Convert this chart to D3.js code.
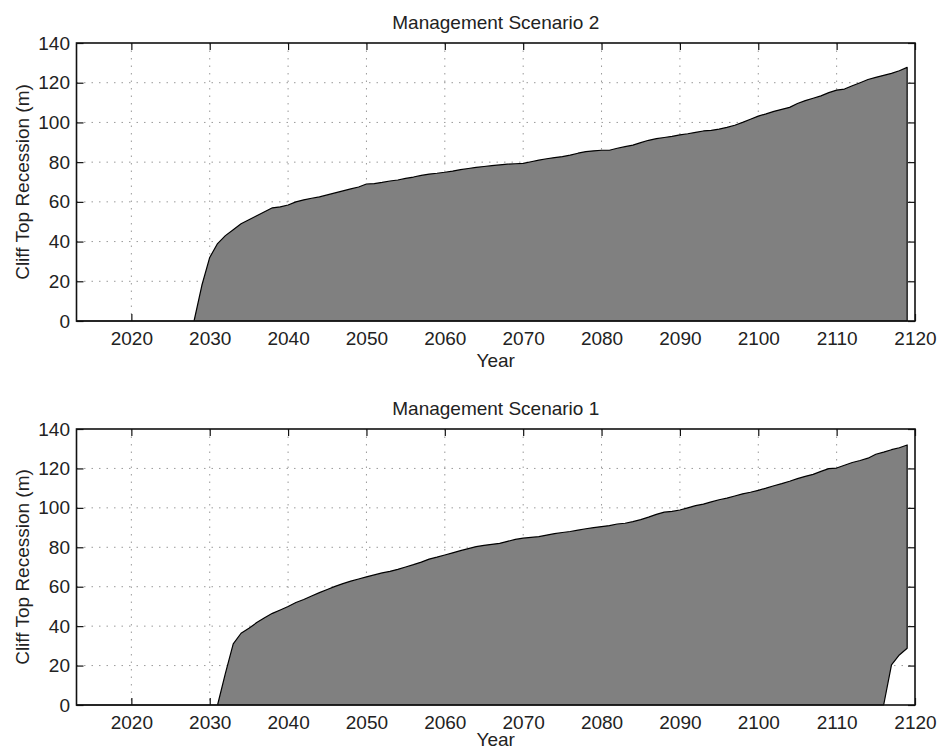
<!DOCTYPE html>
<html>
<head>
<meta charset="utf-8">
<script src="https://cdn.jsdelivr.net/npm/d3@7"></script>
<style>
  body { margin: 0; background: #fff; }
  svg { display: block; font-family: "Liberation Sans", Arial, Helvetica, sans-serif; }
</style>
</head>
<body>
<svg id="chart" width="939" height="749"></svg>
<script>
// Yearly cliff-top recession (m), one value per year from 2013 to 2119.
const years = d3.range(2013, 2120);

const scenario2Recession = [
  0, 0, 0, 0, 0, 0, 0, 0, 0, 0, 0, 0, 0, 0, 0, 0,          // 2013-2028
  18, 32, 39, 43, 46, 49, 51, 53, 55, 57,                   // 2029-2038
  57.5, 58.4, 60, 61, 61.8, 62.5, 63.5, 64.5, 65.5, 66.5,   // 2039-2048
  67.5, 69, 69.2, 69.8, 70.5, 71, 71.8, 72.5, 73.3, 74,     // 2049-2058
  74.4, 74.9, 75.5, 76.2, 76.8, 77.4, 77.8, 78.2, 78.6, 79, // 2059-2068
  79.2, 79.4, 80.2, 81, 81.7, 82.3, 82.8, 83.5, 84.5, 85.3, // 2069-2078
  85.7, 86, 86, 87, 87.8, 88.6, 89.8, 91, 91.8, 92.4,       // 2079-2088
  93, 93.7, 94.3, 95, 95.7, 96, 96.6, 97.5, 98.6, 100,      // 2089-2098
  101.6, 103.2, 104.3, 105.6, 106.6, 107.6, 109.5, 111, 112.2, 113.4, // 2099-2108
  115, 116.3, 116.8, 118.5, 120, 121.6, 122.7, 123.7, 124.7, 126,     // 2109-2118
  127.7                                                     // 2119
];

const scenario1Recession = [
  0, 0, 0, 0, 0, 0, 0, 0, 0, 0, 0, 0, 0, 0, 0, 0, 0, 0, 0, // 2013-2031
  16, 31, 36.4, 38.9, 41.8, 44.3, 46.5, 48.2, 50, 52,       // 2032-2041
  53.5, 55.3, 57, 58.6, 60.2, 61.6, 62.8, 63.9, 65, 66,     // 2042-2051
  67, 67.8, 68.8, 70, 71.2, 72.5, 74, 75, 76.1, 77.2,       // 2052-2061
  78.3, 79.3, 80.3, 81, 81.5, 82, 83, 84, 84.6, 85,         // 2062-2071
  85.4, 86.2, 86.9, 87.5, 88, 88.7, 89.4, 90, 90.5, 91,     // 2072-2081
  91.8, 92.2, 93, 94, 95.3, 96.7, 97.8, 98.2, 98.9, 100,    // 2082-2091
  101.1, 101.9, 103, 104.1, 104.9, 106, 107.1, 107.9, 108.9, 110, // 2092-2101
  111.2, 112.3, 113.5, 114.8, 116, 117, 118.5, 119.9, 120.2, 121.6, // 2102-2111
  123, 124, 125.2, 127.2, 128.3, 129.5, 130.5, 131.9        // 2112-2119
];

// Lower edge of the scenario 1 band: zero except over the last few years.
const scenario1BaseYears = [2116, 2117, 2118, 2119];
const scenario1BaseValues = [0, 20.3, 25.4, 28.8];

const xTicks = [2020, 2030, 2040, 2050, 2060, 2070, 2080, 2090, 2100, 2110, 2120];
const yTicks = [0, 20, 40, 60, 80, 100, 120, 140];

const panels = [
  { title: "Management Scenario 2", upper: scenario2Recession, baseYears: [], baseValues: [], top: 43, bottom: 321 },
  { title: "Management Scenario 1", upper: scenario1Recession, baseYears: scenario1BaseYears, baseValues: scenario1BaseValues, top: 429, bottom: 705 }
];

const width = 939, height = 749;
const left = 76.5, right = 915;
const fontSize = 19;
const svg = d3.select("#chart");

const x = d3.scaleLinear().domain([2013, 2120]).range([left, right]);

panels.forEach(p => {
  const y = d3.scaleLinear().domain([0, 140]).range([p.bottom, p.top]);
  const g = svg.append("g");

  const baseOf = yr => {
    const i = p.baseYears.indexOf(yr);
    return i < 0 ? 0 : p.baseValues[i];
  };
  const rows = years.map((yr, i) => ({ year: yr, hi: p.upper[i], lo: baseOf(yr) }));

  // dotted grid
  const grid = g.append("g").attr("stroke", "#9a9a9a").attr("stroke-width", 1)
    .attr("stroke-dasharray", "1.5,6");
  grid.selectAll("line.v").data(xTicks.filter(t => t < 2120)).join("line")
    .attr("x1", d => x(d)).attr("x2", d => x(d))
    .attr("y1", p.top).attr("y2", p.bottom);
  grid.selectAll("line.h").data(yTicks.filter(t => t > 0 && t < 140)).join("line")
    .attr("x1", left).attr("x2", right)
    .attr("y1", d => y(d)).attr("y2", d => y(d));

  // axes with inward ticks on all four sides
  const styleAxis = sel => {
    sel.select(".domain").remove();
    sel.selectAll(".tick line").attr("stroke", "#111").attr("stroke-width", 1.2);
    sel.selectAll(".tick text").attr("fill", "#222").style("font-size", fontSize + "px");
  };
  g.append("g").attr("transform", `translate(0,${p.bottom})`)
    .call(d3.axisBottom(x).tickValues(xTicks).tickFormat(d3.format("d")).tickSize(-7).tickPadding(10.5))
    .call(styleAxis);
  g.append("g").attr("transform", `translate(0,${p.top})`)
    .call(d3.axisTop(x).tickValues(xTicks).tickFormat("").tickSize(-7))
    .call(styleAxis);
  g.append("g").attr("transform", `translate(${left},0)`)
    .call(d3.axisLeft(y).tickValues(yTicks).tickSize(-7).tickPadding(6.5))
    .call(styleAxis);
  g.append("g").attr("transform", `translate(${right},0)`)
    .call(d3.axisRight(y).tickValues(yTicks).tickFormat("").tickSize(-7))
    .call(styleAxis);

  // filled recession band
  const area = d3.area()
    .x(d => x(d.year))
    .y0(d => y(d.lo))
    .y1(d => y(d.hi));
  g.append("path").datum(rows)
    .attr("d", area)
    .attr("fill", "#808080")
    .attr("stroke", "#000")
    .attr("stroke-width", 1.2)
    .attr("stroke-linejoin", "round");

  // axes box
  g.append("rect")
    .attr("x", left).attr("y", p.top)
    .attr("width", right - left).attr("height", p.bottom - p.top)
    .attr("fill", "none").attr("stroke", "#111").attr("stroke-width", 1.6);

  // title and axis labels
  g.append("text")
    .attr("x", (left + right) / 2).attr("y", p.top - 14)
    .attr("text-anchor", "middle").attr("fill", "#222")
    .style("font-size", fontSize + "px")
    .text(p.title);
  g.append("text")
    .attr("x", (left + right) / 2).attr("y", Math.min(p.bottom + 45.5, height - 3))
    .attr("text-anchor", "middle").attr("fill", "#222")
    .style("font-size", fontSize + "px")
    .text("Year");
  g.append("text")
    .attr("transform", `translate(29,${(p.top + p.bottom) / 2}) rotate(-90)`)
    .attr("text-anchor", "middle").attr("fill", "#222")
    .style("font-size", fontSize + "px")
    .text("Cliff Top Recession (m)");
});
</script>
</body>
</html>
